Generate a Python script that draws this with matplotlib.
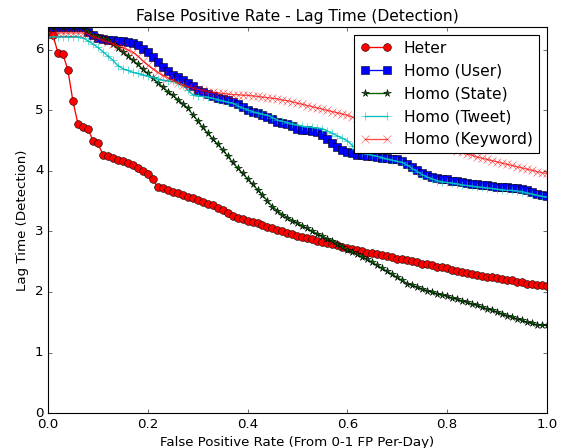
import matplotlib
matplotlib.use("Agg")
import matplotlib.pyplot as plt
import numpy as np

plt.style.use("classic")
plt.rcParams["figure.facecolor"] = "white"
plt.rcParams["savefig.facecolor"] = "white"

fp_rate = np.arange(101) / 100.0

heter = [6.27, 6.24, 5.95, 5.93, 5.66, 5.15, 4.78, 4.72, 4.70, 4.50,
         4.46, 4.27, 4.24, 4.21, 4.18, 4.16, 4.13, 4.10, 4.05, 4.00,
         3.95, 3.87, 3.73, 3.71, 3.69, 3.66, 3.64, 3.60, 3.57, 3.55,
         3.52, 3.49, 3.46, 3.43, 3.39, 3.35, 3.30, 3.25, 3.22, 3.20,
         3.18, 3.16, 3.14, 3.11, 3.08, 3.06, 3.03, 3.01, 2.98, 2.96,
         2.93, 2.91, 2.89, 2.87, 2.85, 2.83, 2.81, 2.79, 2.77, 2.75,
         2.73, 2.71, 2.69, 2.67, 2.65, 2.64, 2.63, 2.61, 2.59, 2.57,
         2.55, 2.54, 2.53, 2.51, 2.49, 2.47, 2.46, 2.44, 2.42, 2.41,
         2.39, 2.37, 2.35, 2.33, 2.32, 2.30, 2.28, 2.27, 2.25, 2.24,
         2.23, 2.22, 2.20, 2.19, 2.17, 2.16, 2.14, 2.13, 2.12, 2.11,
         2.10]

homo_user = [6.37, 6.37, 6.37, 6.37, 6.37, 6.37, 6.37, 6.37, 6.30, 6.24,
             6.20, 6.18, 6.17, 6.16, 6.15, 6.14, 6.13, 6.12, 6.08, 6.02,
             5.96, 5.88, 5.80, 5.72, 5.65, 5.59, 5.55, 5.50, 5.45, 5.40,
             5.34, 5.30, 5.27, 5.24, 5.21, 5.19, 5.17, 5.14, 5.10, 5.05,
             5.01, 4.98, 4.96, 4.93, 4.89, 4.85, 4.81, 4.79, 4.77, 4.74,
             4.70, 4.68, 4.67, 4.66, 4.65, 4.60, 4.52, 4.46, 4.40, 4.35,
             4.31, 4.29, 4.27, 4.26, 4.25, 4.24, 4.23, 4.22, 4.21, 4.20,
             4.19, 4.16, 4.12, 4.06, 4.01, 3.97, 3.93, 3.90, 3.88, 3.87,
             3.86, 3.84, 3.83, 3.81, 3.80, 3.79, 3.78, 3.77, 3.76, 3.75,
             3.74, 3.73, 3.73, 3.72, 3.71, 3.70, 3.68, 3.65, 3.62, 3.60,
             3.58]

homo_state = [6.37, 6.37, 6.37, 6.37, 6.37, 6.37, 6.37, 6.37, 6.30, 6.25,
              6.22, 6.20, 6.17, 6.10, 6.03, 5.97, 5.90, 5.83, 5.76, 5.68,
              5.61, 5.53, 5.46, 5.39, 5.31, 5.25, 5.18, 5.11, 5.04, 4.93,
              4.83, 4.72, 4.62, 4.53, 4.44, 4.35, 4.25, 4.14, 4.05, 3.96,
              3.87, 3.78, 3.69, 3.60, 3.50, 3.41, 3.34, 3.28, 3.23, 3.18,
              3.14, 3.09, 3.05, 3.00, 2.96, 2.92, 2.88, 2.85, 2.80, 2.74,
              2.70, 2.66, 2.62, 2.58, 2.54, 2.49, 2.44, 2.39, 2.34, 2.29,
              2.24, 2.19, 2.14, 2.11, 2.08, 2.05, 2.02, 2.00, 1.97, 1.95,
              1.93, 1.90, 1.88, 1.85, 1.83, 1.80, 1.78, 1.75, 1.72, 1.70,
              1.67, 1.64, 1.61, 1.58, 1.56, 1.53, 1.50, 1.48, 1.46, 1.45,
              1.45]

homo_tweet = [6.22, 6.22, 6.22, 6.22, 6.22, 6.22, 6.22, 6.20, 6.15, 6.10,
              6.04, 5.97, 5.90, 5.83, 5.74, 5.69, 5.66, 5.63, 5.61, 5.59,
              5.57, 5.55, 5.52, 5.50, 5.49, 5.48, 5.46, 5.42, 5.34, 5.26,
              5.24, 5.23, 5.22, 5.20, 5.18, 5.16, 5.14, 5.12, 5.08, 5.04,
              5.01, 4.98, 4.96, 4.94, 4.92, 4.88, 4.84, 4.82, 4.80, 4.78,
              4.76, 4.74, 4.73, 4.72, 4.71, 4.70, 4.66, 4.62, 4.58, 4.54,
              4.50, 4.42, 4.35, 4.30, 4.28, 4.26, 4.24, 4.22, 4.20, 4.18,
              4.16, 4.14, 4.10, 4.04, 3.99, 3.94, 3.90, 3.87, 3.84, 3.82,
              3.81, 3.80, 3.79, 3.77, 3.76, 3.75, 3.74, 3.73, 3.72, 3.71,
              3.70, 3.69, 3.68, 3.68, 3.67, 3.66, 3.64, 3.62, 3.60, 3.58,
              3.57]

homo_keyword = [6.28, 6.28, 6.28, 6.28, 6.28, 6.28, 6.28, 6.28, 6.26, 6.22,
                6.19, 6.16, 6.13, 6.10, 6.07, 6.04, 6.00, 5.96, 5.90, 5.82,
                5.75, 5.69, 5.63, 5.58, 5.54, 5.50, 5.46, 5.42, 5.39, 5.37,
                5.35, 5.33, 5.31, 5.30, 5.29, 5.28, 5.27, 5.26, 5.26, 5.25,
                5.25, 5.24, 5.23, 5.22, 5.21, 5.20, 5.19, 5.17, 5.16, 5.14,
                5.12, 5.10, 5.08, 5.06, 5.04, 5.02, 5.00, 4.98, 4.96, 4.94,
                4.92, 4.89, 4.87, 4.84, 4.81, 4.79, 4.76, 4.73, 4.70, 4.67,
                4.65, 4.62, 4.59, 4.57, 4.54, 4.51, 4.48, 4.46, 4.43, 4.41,
                4.38, 4.36, 4.33, 4.31, 4.28, 4.26, 4.23, 4.21, 4.19, 4.17,
                4.15, 4.13, 4.11, 4.09, 4.07, 4.05, 4.03, 4.01, 3.99, 3.97,
                3.96]

fig = plt.figure(figsize=(7.025, 5.6), dpi=80)
ax = fig.add_axes([0.0854, 0.078, 0.8876, 0.862])

ax.plot(fp_rate, heter, color="r", marker="o", markersize=7, lw=1.2, label="Heter")
ax.plot(fp_rate, homo_user, color="b", marker="s", markersize=7.5, lw=1.2, label="Homo (User)")
ax.plot(fp_rate, homo_state, color="#006400", marker="*", markersize=7, lw=1.2, label="Homo (State)")
ax.plot(fp_rate, homo_tweet, color="c", marker="+", markersize=7, lw=1.2, label="Homo (Tweet)")
ax.plot(fp_rate, homo_keyword, color="r", marker="x", markersize=7, lw=1.2, alpha=0.7,
        label="Homo (Keyword)")

ax.set_xlim(0, 1)
ax.set_ylim(0, 6.38)
ax.set_title("False Positive Rate - Lag Time (Detection)", fontsize=14)
ax.set_xlabel("False Positive Rate (From 0-1 FP Per-Day)", fontsize=12)
ax.set_ylabel("Lag Time (Detection)", fontsize=12)
ax.legend(loc="upper right", fontsize=14)

fig.savefig("out.png", dpi=80)
